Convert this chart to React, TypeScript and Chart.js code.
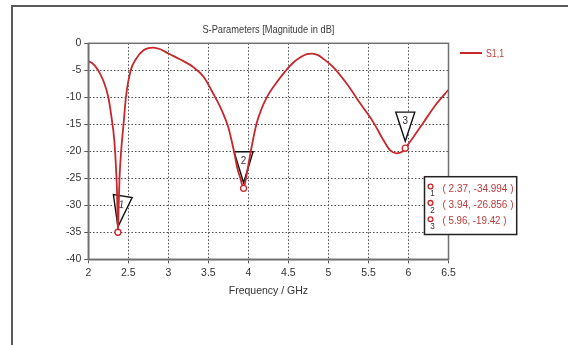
import React, { useEffect, useRef } from "react";
import { Chart, registerables } from "chart.js";

Chart.register(...registerables);

// ---- data ----
const freqGHz = [
  2.0, 2.05, 2.1, 2.15, 2.2, 2.25, 2.29, 2.325, 2.346, 2.36, 2.37, 2.38, 2.39, 2.41, 2.44, 2.47, 2.53,
  2.6, 2.69, 2.75, 2.81, 2.9, 3.0, 3.15, 3.31, 3.44, 3.56, 3.67, 3.75, 3.79, 3.82, 3.86, 3.9, 3.94,
  3.97, 4.0, 4.03, 4.1, 4.16, 4.23, 4.35, 4.47, 4.56, 4.65, 4.73, 4.8, 4.87, 4.93, 5.06, 5.23, 5.4,
  5.56, 5.69, 5.77, 5.85, 5.92, 5.96, 6.06, 6.19, 6.35, 6.5,
];
const s11dB = [
  -3.3, -3.7, -4.5, -5.7, -7.4, -10.0, -13.7, -18.0, -23.0, -28.0, -34.994, -30.0, -25.0, -20.0, -15.0, -10.0, -5.0,
  -2.8, -1.3, -0.9, -0.8, -1.1, -1.9, -3.0, -4.4, -6.2, -9.3, -12.5, -15.6, -18.0, -20.0, -23.0, -25.0, -26.856,
  -25.0, -22.5, -20.0, -15.0, -12.3, -10.0, -7.3, -5.0, -3.6, -2.6, -2.0, -1.9, -2.2, -2.8, -4.4, -7.5, -11.2,
  -14.6, -18.0, -19.8, -20.4, -20.1, -19.42, -17.4, -14.6, -11.2, -8.6,
];
const seriesName = "S1,1";
const markerFreqs = [2.37, 3.94, 5.96];
const markerValues = [-34.994, -26.856, -19.42];
const markerNames = ["1", "2", "3"];
const markerTexts = ["( 2.37, -34.994 )", "( 3.94, -26.856 )", "( 5.96, -19.42 )"];
const xTickValues = [2, 2.5, 3, 3.5, 4, 4.5, 5, 5.5, 6, 6.5];
const yTickValues = [0, -5, -10, -15, -20, -25, -30, -35, -40];
const chartTitle = "S-Parameters [Magnitude in dB]";
const xTitle = "Frequency / GHz";

// ---- styles ----
const FONT = "'Liberation Sans', 'DejaVu Sans', sans-serif";
const RED = "#c8282c";
const TEXT_RED = "#c03a3a";
const GRID = "#4a4a4a";
const FRAME = "#707070";

function narrowText(
  ctx: CanvasRenderingContext2D,
  text: string,
  x: number,
  y: number,
  align: CanvasTextAlign,
  width: number,
  size: number,
  color: string
) {
  ctx.save();
  ctx.font = `${size}px ${FONT}`;
  const natural = ctx.measureText(text).width;
  const sx = width / natural;
  ctx.translate(x, y);
  ctx.scale(sx, 1);
  ctx.fillStyle = color;
  ctx.textAlign = align;
  ctx.textBaseline = "middle";
  ctx.fillText(text, 0, 0);
  ctx.restore();
}

const decorPlugin = {
  id: "decor",
  beforeDraw(chart: any) {
    const ctx = chart.ctx;
    ctx.save();
    ctx.fillStyle = "#ffffff";
    ctx.fillRect(0, 0, chart.width, chart.height);
    ctx.strokeStyle = "#5a5a5a";
    ctx.lineWidth = 2;
    ctx.beginPath();
    ctx.moveTo(12, 345);
    ctx.lineTo(12, 6);
    ctx.lineTo(568, 6);
    ctx.stroke();
    ctx.restore();
  },
  beforeDatasetsDraw(chart: any) {
    const ctx = chart.ctx;
    const xs = chart.scales.x;
    const ys = chart.scales.y;
    ctx.save();
    markerFreqs.forEach((f, i) => {
      const px = xs.getPixelForValue(f);
      const py = ys.getPixelForValue(markerValues[i]);
      const gap = i === 2 ? 7 : 5.5;
      const h = i === 2 ? 29 : 31;
      const w = 19;
      ctx.save();
      ctx.translate(px, py - gap);
      if (i === 0) ctx.rotate((9 * Math.PI) / 180);
      ctx.beginPath();
      ctx.moveTo(0, 0);
      ctx.lineTo(-w / 2, -h);
      ctx.lineTo(w / 2, -h);
      ctx.closePath();
      ctx.fillStyle = "#ffffff";
      ctx.fill();
      ctx.strokeStyle = "#111";
      ctx.lineWidth = 1.4;
      ctx.stroke();
      narrowText(ctx, markerNames[i], 0, -h + 9, "center", 5.5, 11, "#333");
      ctx.restore();
    });
    ctx.restore();
  },
  afterDraw(chart: any) {
    const ctx = chart.ctx;
    const a = chart.chartArea;
    const xs = chart.scales.x;
    const ys = chart.scales.y;
    ctx.save();
    ctx.strokeStyle = FRAME;
    ctx.lineWidth = 1.5;
    ctx.strokeRect(a.left, a.top, a.right - a.left, a.bottom - a.top);

    narrowText(ctx, chartTitle, (a.left + a.right) / 2, 30, "center", 132, 11, "#3a3a3a");

    // legend
    ctx.strokeStyle = RED;
    ctx.lineWidth = 2;
    ctx.beginPath();
    ctx.moveTo(460, 53);
    ctx.lineTo(482, 53);
    ctx.stroke();
    narrowText(ctx, seriesName, 486, 53.5, "left", 18, 11, TEXT_RED);

    // marker circles
    markerFreqs.forEach((f, i) => {
      const px = xs.getPixelForValue(f);
      const py = ys.getPixelForValue(markerValues[i]);
      ctx.beginPath();
      ctx.arc(px, py, 3, 0, Math.PI * 2);
      ctx.fillStyle = "#fff";
      ctx.fill();
      ctx.strokeStyle = RED;
      ctx.lineWidth = 1.3;
      ctx.stroke();
    });

    // marker table
    const bx = 424.5, by = 176.7, bw = 92.2, bh = 57.8;
    ctx.fillStyle = "#fff";
    ctx.fillRect(bx, by, bw, bh);
    ctx.strokeStyle = "#222";
    ctx.lineWidth = 1.5;
    ctx.strokeRect(bx, by, bw, bh);
    const widths = [71, 71, 64];
    markerTexts.forEach((t, i) => {
      const ry = 188.5 + i * 16.4;
      ctx.beginPath();
      ctx.arc(430.5, ry - 2, 2.4, 0, Math.PI * 2);
      ctx.strokeStyle = RED;
      ctx.lineWidth = 1.3;
      ctx.stroke();
      narrowText(ctx, markerNames[i], 432.5, ry + 5.5, "center", 4.5, 9, "#333");
      narrowText(ctx, t, 442.5, ry, "left", widths[i], 11, TEXT_RED);
    });
    ctx.restore();
  },
};

export default function App() {
  const ref = useRef<HTMLCanvasElement | null>(null);
  useEffect(() => {
    if (!ref.current) return;
    Chart.defaults.font.family = FONT;
    const chart = new Chart(ref.current, {
      type: "line",
      data: {
        datasets: [
          {
            label: seriesName,
            data: freqGHz.map((f, i) => ({ x: f, y: s11dB[i] })),
            borderColor: RED,
            borderWidth: 1.8,
            pointRadius: 0,
            fill: false,
            cubicInterpolationMode: "monotone",
          },
        ],
      },
      options: {
        animation: false,
        responsive: false,
        devicePixelRatio: 1,
        layout: { padding: { left: 0, top: 43.3, right: 119.5, bottom: 36 } },
        plugins: {
          legend: { display: false },
          title: { display: false },
          tooltip: { enabled: false },
        },
        scales: {
          x: {
            type: "linear",
            min: 2,
            max: 6.5,
            afterBuildTicks: (s: any) => {
              s.ticks = xTickValues.map((v) => ({ value: v }));
            },
            afterFit: (s: any) => {
              s.height = 49.7;
            },
            ticks: {
              color: "#333",
              font: { size: 10.5 },
              padding: 4,
              maxRotation: 0,
              autoSkip: false,
              callback: (v: any) => String(v),
            },
            grid: {
              color: GRID,
              lineWidth: 1,
              tickLength: 4,
              tickColor: "#555",
              tickBorderDash: [],
            },
            border: { color: FRAME, width: 1.5, dash: [1.5, 2] },
            title: {
              display: true,
              text: xTitle,
              color: "#333",
              font: { size: 10.5 },
              padding: { top: 0, bottom: 11.5 },
            },
          },
          y: {
            type: "linear",
            min: -40,
            max: 0,
            afterBuildTicks: (s: any) => {
              s.ticks = yTickValues.map((v) => ({ value: v }));
            },
            afterFit: (s: any) => {
              s.width = 88.3;
            },
            ticks: {
              color: "#333",
              font: { size: 10.5 },
              padding: 3,
              autoSkip: false,
              callback: (v: any) => String(v),
            },
            grid: {
              color: GRID,
              lineWidth: 1,
              tickLength: 4,
              tickColor: "#555",
              tickBorderDash: [],
            },
            border: { color: FRAME, width: 1.5, dash: [1.5, 2] },
          },
        },
      },
      plugins: [decorPlugin],
    });
    return () => chart.destroy();
  }, []);
  return (
    <div style={{ position: "absolute", left: 0, top: 0, width: 568, height: 345 }}>
      <canvas ref={ref} width={568} height={345} style={{ width: 568, height: 345 }} />
    </div>
  );
}
